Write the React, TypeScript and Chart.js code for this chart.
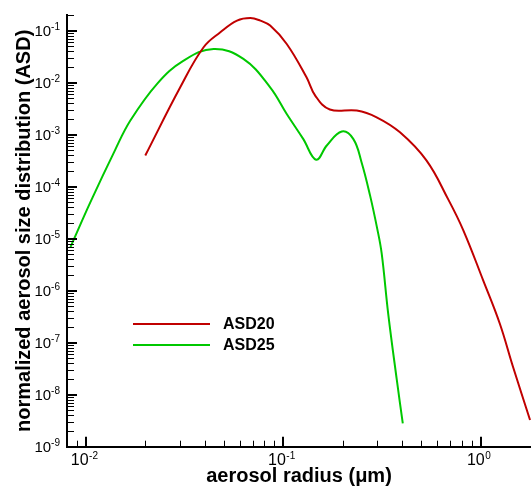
import React, { useEffect, useRef } from 'react';
import { Chart, registerables } from 'chart.js';

Chart.register(...registerables);

// ---- data ----
const seriesLabels = ['ASD20', 'ASD25'];
const seriesColors = ['#c00000', '#00c800'];

const asd20X = [0.01995, 0.030, 0.0394, 0.0479, 0.0582, 0.068, 0.0764, 0.0857, 0.104, 0.131, 0.145, 0.172, 0.2356, 0.297, 0.39, 0.531, 0.685, 0.817, 1.03, 1.25, 1.46, 1.78];
const asd20Y = [3.98e-4, 8.15e-3, 0.0479, 0.093, 0.156, 0.175, 0.156, 0.125, 0.0555, 0.0127, 5.65e-3, 3.04e-3, 2.91e-3, 2.16e-3, 1.11e-3, 3.2e-4, 5.7e-5, 1.45e-5, 1.58e-6, 2.34e-7, 3.4e-8, 3.26e-9];

const asd25X = [0.00833, 0.0105, 0.0140, 0.01676, 0.0229, 0.0312, 0.0443, 0.0627, 0.0857, 0.104, 0.126, 0.1466, 0.166, 0.1977, 0.226, 0.249, 0.275, 0.299, 0.315, 0.340, 0.376, 0.403];
const asd25Y = [6.9e-6, 5.0e-5, 5.0e-4, 1.87e-3, 9.5e-3, 0.0265, 0.0445, 0.0286, 8.15e-3, 2.5e-3, 8.3e-4, 3.3e-4, 6.2e-4, 1.15e-3, 8.3e-4, 2.96e-4, 6.8e-5, 1.56e-5, 5.2e-6, 3.6e-7, 1.9e-8, 2.8e-9];

const xTickValues = [0.01, 0.1, 1];
const xTickBases = ['10', '10', '10'];
const xTickExponents = ['-2', '-1', '0'];
const yTickValues = [1e-9, 1e-8, 1e-7, 1e-6, 1e-5, 1e-4, 1e-3, 1e-2, 1e-1];
const yTickBases = ['10', '10', '10', '10', '10', '10', '10', '10', '10'];
const yTickExponents = ['-9', '-8', '-7', '-6', '-5', '-4', '-3', '-2', '-1'];

const xMin = 0.008;
const xMax = 1.8;
const yMin = 1e-9;
const yMax = 0.2;

const xTitle = 'aerosol radius (\u03BCm)';
const yTitle = 'normalized aerosol size distribution (ASD)';

const FONT = "'Liberation Sans', Arial, Helvetica, sans-serif";

function logTicks(min: number, max: number) {
  const out: { value: number; major: boolean }[] = [];
  const e0 = Math.floor(Math.log10(min));
  const e1 = Math.ceil(Math.log10(max));
  for (let e = e0; e <= e1; e++) {
    for (let m = 1; m <= 9; m++) {
      const v = m * Math.pow(10, e);
      if (v >= min * (1 - 1e-9) && v <= max * (1 + 1e-9)) out.push({ value: v, major: m === 1 });
    }
  }
  return out;
}

const inwardTicks = {
  id: 'inwardTicks',
  afterDraw(chart: any) {
    const { ctx, chartArea, scales } = chart;
    const xs = scales.x;
    const ys = scales.y;
    ctx.save();
    ctx.strokeStyle = '#000';
    xs.ticks.forEach((t: any) => {
      const px = xs.getPixelForValue(t.value);
      if (px <= chartArea.left + 1) return;
      const len = t.major ? 10 : 6;
      ctx.lineWidth = t.major ? 2 : 1;
      const x = t.major ? Math.round(px) : Math.round(px) + 0.5;
      ctx.beginPath();
      ctx.moveTo(x, chartArea.bottom);
      ctx.lineTo(x, chartArea.bottom - len);
      ctx.stroke();
    });
    ys.ticks.forEach((t: any) => {
      const py = ys.getPixelForValue(t.value);
      if (py >= chartArea.bottom - 1) return;
      const len = t.major ? 10 : 7;
      ctx.lineWidth = t.major ? 2 : 1;
      const y = t.major ? Math.round(py) : Math.round(py) + 0.5;
      ctx.beginPath();
      ctx.moveTo(chartArea.left, y);
      ctx.lineTo(chartArea.left + len, y);
      ctx.stroke();
    });
    ctx.restore();
  },
};

// power-of-ten tick labels with a raised exponent
const powerLabels = {
  id: 'powerLabels',
  afterDraw(chart: any) {
    const { ctx, chartArea, scales } = chart;
    const xs = scales.x;
    const ys = scales.y;
    ctx.save();
    ctx.fillStyle = '#000';
    ctx.textBaseline = 'alphabetic';
    ctx.textAlign = 'left';
    yTickValues.forEach((v, i) => {
      const py = ys.getPixelForValue(v);
      ctx.font = `10px ${FONT}`;
      const we = ctx.measureText(yTickExponents[i]).width;
      ctx.font = `15px ${FONT}`;
      const wb = ctx.measureText(yTickBases[i]).width;
      const right = chartArea.left - 7;
      ctx.fillText(yTickBases[i], right - we - wb, py + 5.5);
      ctx.font = `10px ${FONT}`;
      ctx.fillText(yTickExponents[i], right - we, py - 0.5);
    });
    xTickValues.forEach((v, i) => {
      const px = xs.getPixelForValue(v);
      ctx.font = `10px ${FONT}`;
      const we = ctx.measureText(xTickExponents[i]).width;
      ctx.font = `16px ${FONT}`;
      const wb = ctx.measureText(xTickBases[i]).width;
      const left = px - (wb + we) / 2 - 2;
      ctx.fillText(xTickBases[i], left, chartArea.bottom + 18.5);
      ctx.font = `10px ${FONT}`;
      ctx.fillText(xTickExponents[i], left + wb + 0.5, chartArea.bottom + 12);
    });
    ctx.restore();
  },
};

const insetLegend = {
  id: 'insetLegend',
  afterDraw(chart: any) {
    const { ctx, chartArea } = chart;
    const x0 = chartArea.left + 66;
    const x1 = chartArea.left + 143;
    const tx = chartArea.left + 156;
    const y0 = chartArea.top + 309;
    ctx.save();
    chart.data.datasets.forEach((ds: any, i: number) => {
      const y = y0 + i * 21;
      ctx.strokeStyle = ds.borderColor;
      ctx.lineWidth = 2;
      ctx.beginPath();
      ctx.moveTo(x0, y);
      ctx.lineTo(x1, y);
      ctx.stroke();
      ctx.fillStyle = '#000';
      ctx.font = `bold 16px ${FONT}`;
      ctx.textBaseline = 'middle';
      ctx.textAlign = 'left';
      ctx.fillText(ds.label, tx, y + 1);
    });
    ctx.restore();
  },
};

export default function App() {
  const ref = useRef<HTMLCanvasElement | null>(null);

  useEffect(() => {
    if (!ref.current) return;
    const mk = (xs: number[], ys: number[]) => xs.map((x, i) => ({ x, y: ys[i] }));
    const chart = new Chart(ref.current, {
      type: 'line',
      data: {
        datasets: [
          {
            label: seriesLabels[0],
            data: mk(asd20X, asd20Y),
            borderColor: seriesColors[0],
            backgroundColor: seriesColors[0],
            borderWidth: 2,
            pointRadius: 0,
            tension: 0.4,
            fill: false,
          },
          {
            label: seriesLabels[1],
            data: mk(asd25X, asd25Y),
            borderColor: seriesColors[1],
            backgroundColor: seriesColors[1],
            borderWidth: 2,
            pointRadius: 0,
            tension: 0.4,
            fill: false,
          },
        ],
      },
      options: {
        animation: false,
        responsive: false,
        devicePixelRatio: 1,
        layout: { padding: { top: 15, left: 0, right: 0, bottom: 0 } },
        plugins: {
          legend: { display: false },
          tooltip: { enabled: false },
        },
        scales: {
          x: {
            type: 'logarithmic',
            position: 'bottom',
            min: xMin,
            max: xMax,
            afterBuildTicks: (s: any) => { s.ticks = logTicks(xMin, xMax); },
            afterFit: (s: any) => { s.height = 41.3; },
            grid: { display: true, drawOnChartArea: false, drawTicks: false },
            border: { display: true, color: '#000', width: 2 },
            ticks: { display: false, autoSkip: false },
            title: {
              display: true,
              text: xTitle,
              color: '#000',
              font: { family: FONT, size: 20, weight: 'bold' },
              padding: { top: 0, bottom: 0 },
            },
          },
          y: {
            type: 'logarithmic',
            position: 'left',
            min: yMin,
            max: yMax,
            afterBuildTicks: (s: any) => { s.ticks = logTicks(yMin, yMax); },
            afterFit: (s: any) => { s.width = 67; },
            grid: { display: true, drawOnChartArea: false, drawTicks: false },
            border: { display: true, color: '#000', width: 2 },
            ticks: { display: false, autoSkip: false },
            title: {
              display: true,
              text: yTitle,
              color: '#000',
              font: { family: FONT, size: 20, weight: 'bold' },
              padding: { top: 12, bottom: 0 },
            },
          },
        },
      },
      plugins: [inwardTicks, powerLabels, insetLegend],
    } as any);
    return () => chart.destroy();
  }, []);

  return (
    <div style={{ position: 'absolute', left: 0, top: 0, width: 531, height: 488, background: '#fff' }}>
      <canvas ref={ref} width={531} height={488} style={{ width: 531, height: 488, display: 'block' }} />
    </div>
  );
}
